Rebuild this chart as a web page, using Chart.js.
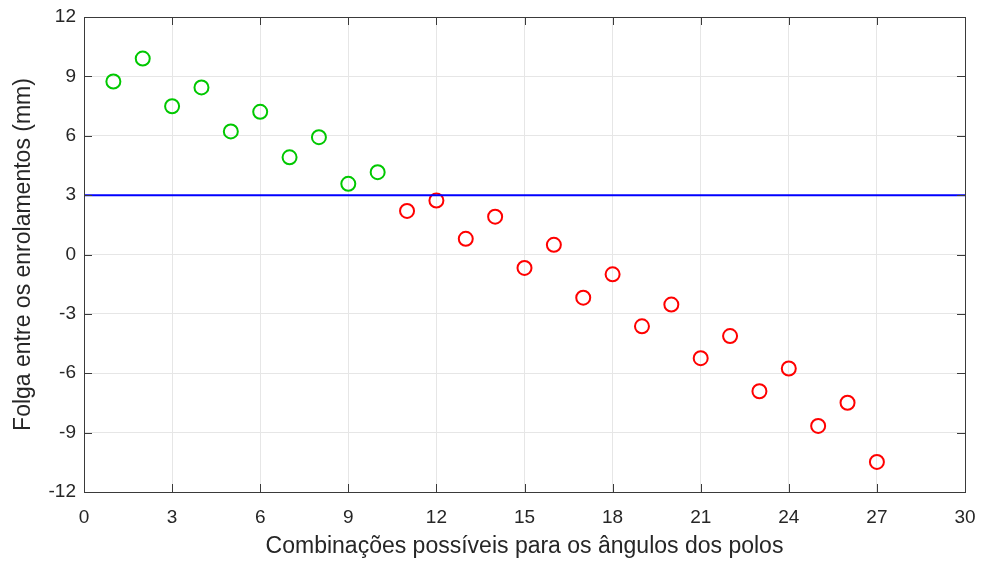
<!DOCTYPE html>
<html>
<head>
<meta charset="utf-8">
<script src="https://cdn.jsdelivr.net/npm/chart.js@4.4.0/dist/chart.umd.min.js"></script>
<style>
    html, body { margin: 0; padding: 0; background: #fff; }
    #wrap { width: 981px; height: 563px; }
</style>
</head>
<body>
<div id="wrap"><canvas id="folgaChart" width="981" height="563"></canvas></div>
<script>
// dados
const combinacoes = [1, 2, 3, 4, 5, 6, 7, 8, 9, 10, 11, 12, 13, 14, 15, 16, 17, 18, 19, 20, 21, 22, 23, 24, 25, 26, 27]
const folga = [8.74, 9.9, 7.49, 8.44, 6.22, 7.21, 4.91, 5.93, 3.57, 4.16, 2.2, 2.73, 0.79, 1.91, -0.68, 0.49, -2.18, -1.0, -3.63, -2.53, -5.24, -4.12, -6.91, -5.76, -8.66, -7.49, -10.48]
const limite = 3
const xTicks = [0, 3, 6, 9, 12, 15, 18, 21, 24, 27, 30]
const yTicks = [-12, -9, -6, -3, 0, 3, 6, 9, 12]

const acima = []
const abaixo = []
combinacoes.forEach((c, i) => {
    if (folga[i] > limite) acima.push({ x: c, y: folga[i] })
    else abaixo.push({ x: c, y: folga[i] })
})

const textColor = '#262626'
const fontFamily = '"Liberation Sans", Helvetica, Arial, sans-serif'

// caixa e ticks para dentro, estilo MATLAB
const boxPlugin = {
    id: 'boxTicks',
    afterDraw(chart) {
        const { ctx, chartArea: a, scales } = chart
        const len = 8
        ctx.save()
        ctx.strokeStyle = '#3a3a3a'
        ctx.lineWidth = 1
        ctx.beginPath()
        xTicks.forEach(v => {
            const px = Math.round(scales.x.getPixelForValue(v)) + 0.5
            ctx.moveTo(px, a.bottom); ctx.lineTo(px, a.bottom - len)
            ctx.moveTo(px, a.top); ctx.lineTo(px, a.top + len)
        })
        yTicks.forEach(v => {
            const py = Math.round(scales.y.getPixelForValue(v)) + 0.5
            ctx.moveTo(a.left, py); ctx.lineTo(a.left + len, py)
            ctx.moveTo(a.right, py); ctx.lineTo(a.right - len, py)
        })
        ctx.stroke()
        ctx.strokeRect(Math.round(a.left) + 0.5, Math.round(a.top) + 0.5, Math.round(a.right - a.left), Math.round(a.bottom - a.top))
        ctx.restore()
    }
}

const ctx = document.getElementById('folgaChart').getContext('2d')

new Chart(ctx, {
    type: 'scatter',
    data: {
        datasets: [
            {
                label: 'limite',
                type: 'line',
                data: [{ x: 0, y: limite }, { x: 30, y: limite }],
                borderColor: '#0000ff',
                borderWidth: 2,
                pointRadius: 0,
                fill: false,
            },
            {
                label: 'acima',
                data: acima,
                pointStyle: 'circle',
                pointRadius: 7,
                pointBorderWidth: 2,
                pointBorderColor: '#00c800',
                pointBackgroundColor: 'rgba(0,0,0,0)',
            },
            {
                label: 'abaixo',
                data: abaixo,
                pointStyle: 'circle',
                pointRadius: 7,
                pointBorderWidth: 2,
                pointBorderColor: '#ff0000',
                pointBackgroundColor: 'rgba(0,0,0,0)',
            }
        ]
    },
    options: {
        responsive: false,
        animation: false,
        layout: { padding: { top: 17, right: 16, left: 0, bottom: 0 } },
        plugins: {
            legend: { display: false },
            tooltip: { enabled: false }
        },
        scales: {
            x: {
                type: 'linear',
                min: 0,
                max: 30,
                afterBuildTicks: s => { s.ticks = xTicks.map(v => ({ value: v })) },
                afterFit: s => { s.height = 71; s.paddingLeft = 0; s.paddingRight = 0 },
                grid: { color: '#e6e6e6', drawTicks: false },
                border: { display: false },
                ticks: { color: textColor, padding: 14, font: { family: fontFamily, size: 19 } },
                title: {
                    display: true,
                    text: 'Combinações possíveis para os ângulos dos polos',
                    color: textColor,
                    padding: { top: 0, bottom: 3 },
                    font: { family: fontFamily, size: 23 }
                }
            },
            y: {
                min: -12,
                max: 12,
                afterBuildTicks: s => { s.ticks = yTicks.map(v => ({ value: v })) },
                afterFit: s => { s.width = 84; s.paddingTop = 0; s.paddingBottom = 0 },
                grid: { color: '#e6e6e6', drawTicks: false },
                border: { display: false },
                ticks: { color: textColor, padding: 8, font: { family: fontFamily, size: 19 } },
                title: {
                    display: true,
                    text: 'Folga entre os enrolamentos (mm)',
                    color: textColor,
                    padding: { top: 10, bottom: 0 },
                    font: { family: fontFamily, size: 23 }
                }
            }
        }
    },
    plugins: [boxPlugin]
})
</script>
</body>
</html>
